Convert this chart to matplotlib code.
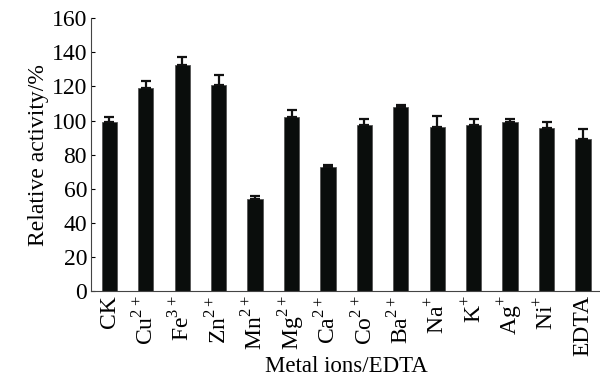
import matplotlib.pyplot as plt

labels = ['CK', 'Cu$^{2+}$', 'Fe$^{3+}$', 'Zn$^{2+}$', 'Mn$^{2+}$', 'Mg$^{2+}$', 'Ca$^{2+}$',
          'Co$^{2+}$', 'Ba$^{2+}$', 'Na$^{+}$', 'K$^{+}$', 'Ag$^{+}$', 'Ni$^{+}$', 'EDTA']
activity = [99.3, 119.2, 132.3, 121.0, 54.2, 102.3, 73.0, 97.3, 107.7, 96.3, 97.3, 99.2, 95.7, 89.3]
errors = [2.5, 3.8, 4.7, 5.5, 1.3, 3.8, 1.0, 3.5, 1.6, 6.5, 3.5, 1.6, 3.3, 5.8]

plt.rcParams['font.family'] = 'Liberation Serif'
plt.rcParams['mathtext.fontset'] = 'custom'
plt.rcParams['mathtext.rm'] = 'Liberation Serif'

fig = plt.figure(figsize=(6, 3.79), dpi=100)
ax = fig.add_axes([0.152, 0.232, 0.85, 0.72])

x = range(len(labels))
ax.bar(x, activity, width=0.42, color='#0a0d0c', edgecolor='#555555', linewidth=0.6,
       yerr=[[0] * len(errors), errors], error_kw=dict(ecolor='#111111', elinewidth=1.6, capsize=3.5, capthick=1.6))

# axes
ax.set_xlim(-0.5, 13.5)
ax.set_ylim(0, 160)
ax.set_yticks(range(0, 161, 20))
ax.set_xticks(list(x))
ax.set_xticklabels(labels, rotation=90, fontsize=17)
ax.tick_params(axis='y', direction='in', length=3, labelsize=17, pad=3)
ax.tick_params(axis='x', length=0, pad=3)
ax.spines['top'].set_visible(False)
ax.spines['right'].set_visible(False)
ax.spines['left'].set_color('#444444')
ax.spines['bottom'].set_color('#444444')

ax.set_xlabel('Metal ions/EDTA', fontsize=16.5, labelpad=0)
ax.set_ylabel('Relative activity/%', fontsize=17, labelpad=2)

plt.savefig('out.png', dpi=100)
